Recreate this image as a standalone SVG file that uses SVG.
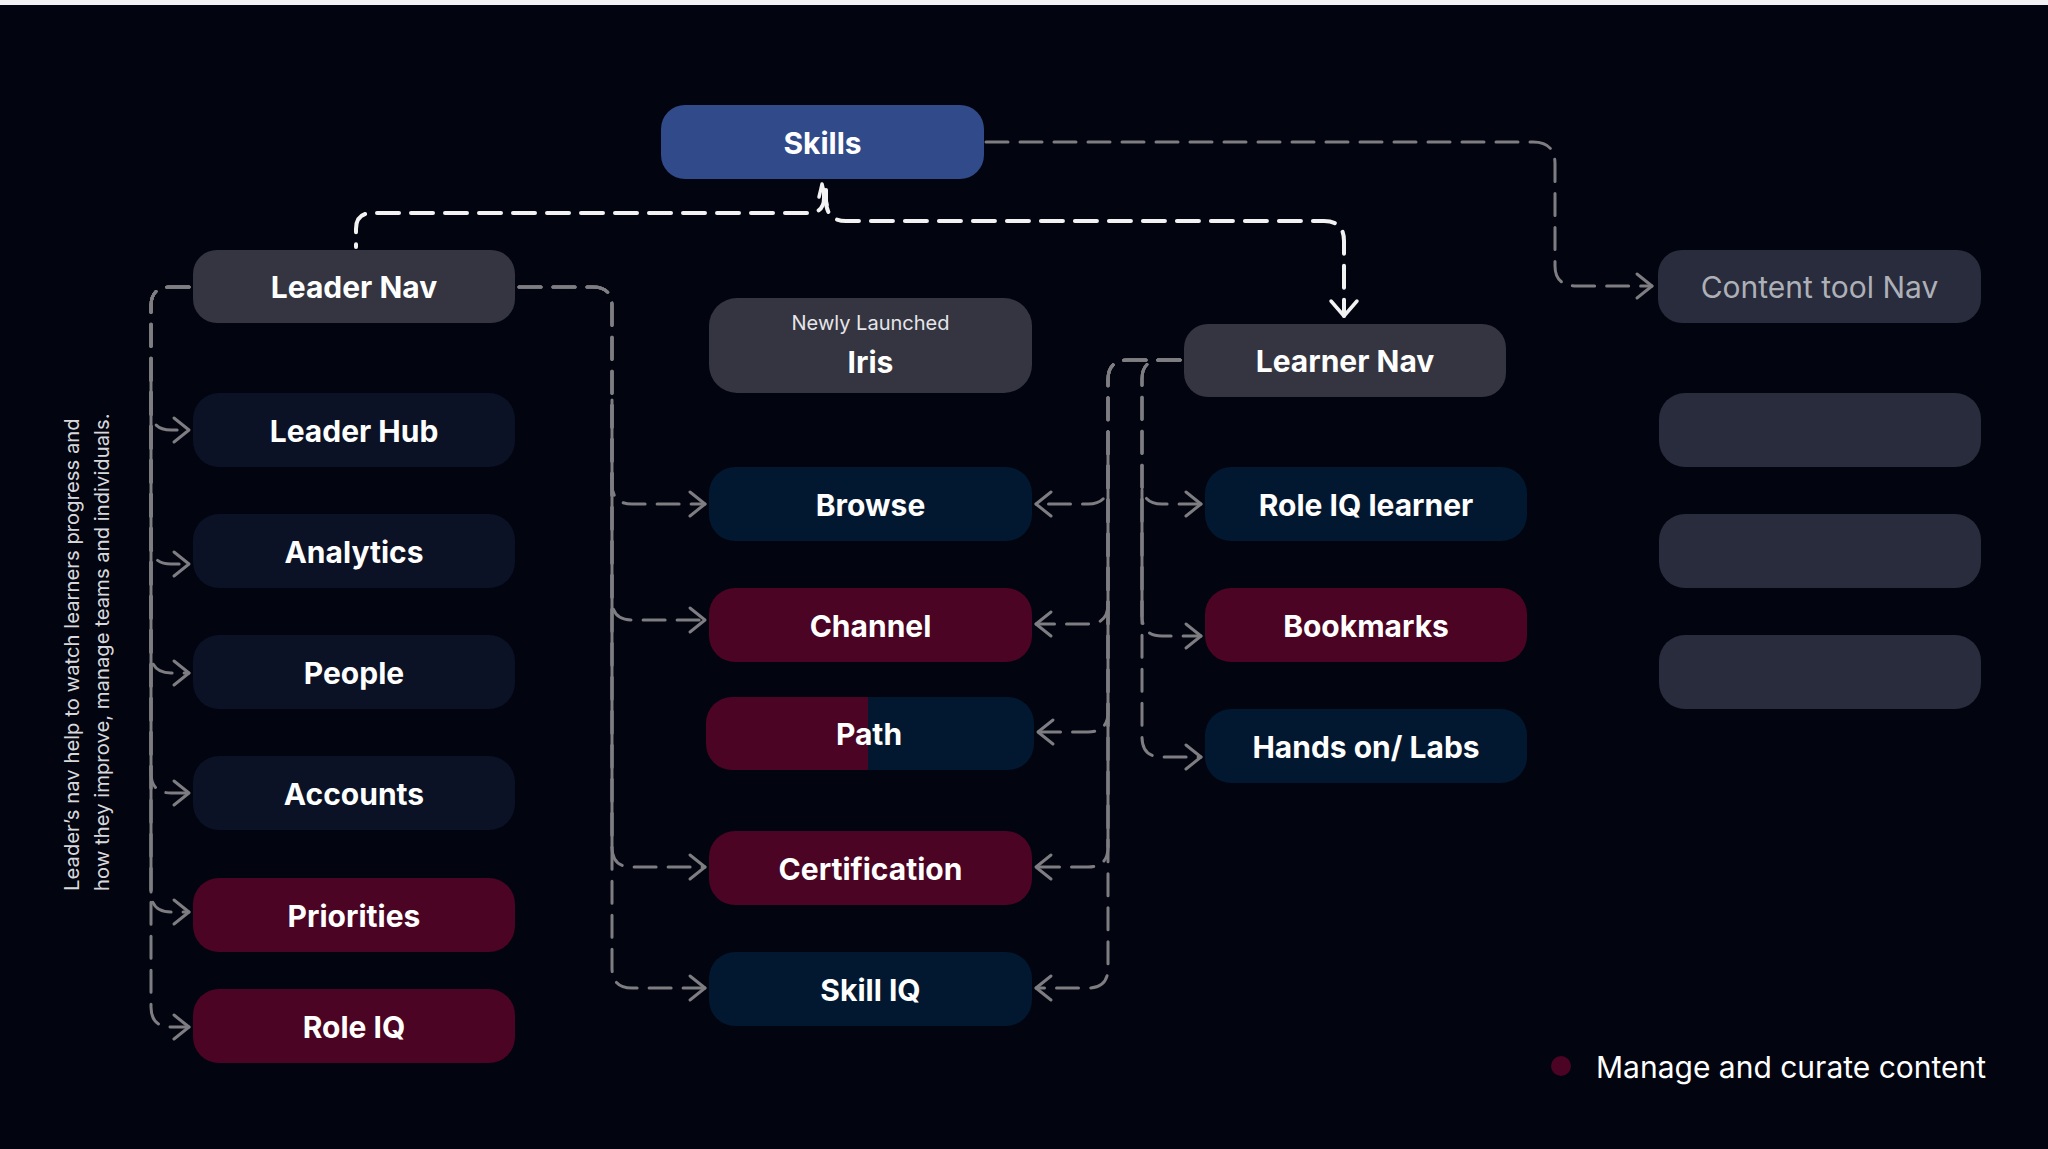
<svg xmlns="http://www.w3.org/2000/svg" width="2048" height="1149" viewBox="0 0 2048 1149">
<style>
.lbl{font-family:Inter,"Liberation Sans",sans-serif;font-weight:700;font-size:30px;fill:#ffffff;text-anchor:middle}
.reg{font-family:Inter,"Liberation Sans",sans-serif;font-weight:400}
.gray{fill:#343540}
.navy{fill:#0b1226}
.maroon{fill:#4b0423}
.blue{fill:#021830}
.slate{fill:#282c3c}
.skills{fill:#304a8a}
.cg{fill:none;stroke:#7d7d82;stroke-width:3;stroke-dasharray:22 12;stroke-linecap:round;stroke-linejoin:round}
.cs{fill:none;stroke:#7d7d82;stroke-width:3;stroke-linecap:round}
.cw{fill:none;stroke:#f2f2f2;stroke-width:4;stroke-dasharray:22 12;stroke-linecap:round;stroke-linejoin:round}
.ae{marker-end:url(#ag)}
</style>
<defs>
<marker id="ag" markerUnits="userSpaceOnUse" markerWidth="40" markerHeight="40" viewBox="-20 -20 40 40" refX="0" refY="0" orient="auto">
<path d="M-15,-12 L0,0 L-15,12" fill="none" stroke="#7d7d82" stroke-width="3" stroke-linecap="round" stroke-linejoin="round"/>
</marker>
<marker id="aw" markerUnits="userSpaceOnUse" markerWidth="40" markerHeight="40" viewBox="-20 -20 40 40" refX="0" refY="0" orient="auto">
<path d="M-15,-13 L0,0 L-15,13" fill="none" stroke="#f2f2f2" stroke-width="3.5" stroke-linecap="round" stroke-linejoin="round"/>
</marker>
<clipPath id="pathclip"><rect x="706" y="697" width="328" height="73" rx="26"/></clipPath>
</defs>
<rect x="0" y="0" width="2048" height="1149" fill="#02040f"/>
<rect x="0" y="0" width="2048" height="5" fill="#f2f2f2"/>

<g id="note">
<text class="reg" font-size="20.3" fill="#d8d8dc" transform="translate(79,891) rotate(-90)">Leader’s nav help to watch learners progress and</text>
<text class="reg" font-size="20.3" fill="#d8d8dc" transform="translate(109,891) rotate(-90)">how they improve, manage teams and individuals.</text>
</g>

<g id="connectors">
<!-- Skills to Leader Nav / Learner Nav -->
<path d="M819,197 Q821,189 822,184 L827,205" fill="none" stroke="#f2f2f2" stroke-width="3.5" stroke-linecap="round" stroke-linejoin="round"/>
<path class="cw" d="M824,190 V198 Q824,213 808,213 H372 Q356,213 356,229 V247"/>
<path class="cw" d="M826,190 V200 Q826,221 846,221 H1324 Q1344,221 1344,241 V316" marker-end="url(#aw)"/>
<!-- Skills to Content tool Nav -->
<path class="cg ae" d="M986,142 H1533 Q1555,142 1555,164 V266 Q1555,286 1577,286 H1652"/>
<!-- Leader Nav left trunk -->
<path class="cg ae" d="M189,287 H170 Q151,287 151,306 V410 Q151,430 171,430 H189"/>
<path class="cg ae" d="M189,287 H170 Q151,287 151,306 V544 Q151,564 171,564 H189"/>
<path class="cg ae" d="M189,287 H170 Q151,287 151,306 V653 Q151,673 171,673 H189"/>
<path class="cg ae" d="M189,287 H170 Q151,287 151,306 V773 Q151,793 171,793 H189"/>
<path class="cg ae" d="M189,287 H170 Q151,287 151,306 V892 Q151,912 171,912 H189"/>
<path class="cg ae" d="M189,287 H170 Q151,287 151,306 V1007 Q151,1027 171,1027 H189"/>
<path class="cs" d="M151,380 V892"/>
<!-- Leader Nav right trunk -->
<path class="cg ae" d="M519,287 H593 Q612,287 612,306 V484 Q612,504 632,504 H705"/>
<path class="cg ae" d="M519,287 H593 Q612,287 612,306 V600 Q612,620 632,620 H705"/>
<path class="cg ae" d="M519,287 H593 Q612,287 612,306 V847 Q612,867 632,867 H705"/>
<path class="cg ae" d="M519,287 H593 Q612,287 612,306 V968 Q612,988 632,988 H705"/>
<path class="cs" d="M612,400 V847"/>
<!-- Learner Nav outer trunk -->
<path class="cg ae" d="M1180,360 H1128 Q1108,360 1108,380 V484 Q1108,504 1088,504 H1036"/>
<path class="cg ae" d="M1180,360 H1128 Q1108,360 1108,380 V604 Q1108,624 1088,624 H1036"/>
<path class="cg ae" d="M1180,360 H1128 Q1108,360 1108,380 V712 Q1108,732 1088,732 H1038"/>
<path class="cg ae" d="M1180,360 H1128 Q1108,360 1108,380 V847 Q1108,867 1088,867 H1036"/>
<path class="cg ae" d="M1180,360 H1128 Q1108,360 1108,380 V968 Q1108,988 1088,988 H1036"/>
<path class="cs" d="M1108,440 V847"/>
<!-- Learner Nav inner trunk -->
<path class="cg ae" d="M1180,360 H1161 Q1142,360 1142,379 V484 Q1142,504 1162,504 H1201"/>
<path class="cg ae" d="M1180,360 H1161 Q1142,360 1142,379 V616 Q1142,636 1162,636 H1201"/>
<path class="cg ae" d="M1180,360 H1161 Q1142,360 1142,379 V737 Q1142,757 1162,757 H1201"/>
<path class="cs" d="M1142,490 V616"/>
</g>

<g id="skills"><rect class="skills" x="661" y="105" width="323" height="74" rx="24"/><text class="lbl" x="822.5" y="154">Skills</text></g>
<g id="leader-nav"><rect class="gray" x="193" y="250" width="322" height="73" rx="24"/><text class="lbl" x="354" y="298">Leader Nav</text></g>
<g id="iris"><rect class="gray" x="709" y="298" width="323" height="95" rx="28"/><text class="reg" x="870.5" y="330" font-size="20" fill="#e6e6ea" text-anchor="middle">Newly Launched</text><text class="lbl" x="870.5" y="373">Iris</text></g>
<g id="learner-nav"><rect class="gray" x="1184" y="324" width="322" height="73" rx="24"/><text class="lbl" x="1345" y="372">Learner Nav</text></g>
<g id="content-tool-nav"><rect class="slate" x="1658" y="250" width="323" height="73" rx="24"/><text class="reg" x="1819.5" y="298" font-size="30" fill="#aeb0b8" text-anchor="middle">Content tool Nav</text></g>
<g id="placeholder-1"><rect class="slate" x="1659" y="393" width="322" height="74" rx="26"/></g>
<g id="placeholder-2"><rect class="slate" x="1659" y="514" width="322" height="74" rx="26"/></g>
<g id="placeholder-3"><rect class="slate" x="1659" y="635" width="322" height="74" rx="26"/></g>

<g id="leader-hub"><rect class="navy" x="193" y="393" width="322" height="74" rx="26"/><text class="lbl" x="354" y="442">Leader Hub</text></g>
<g id="analytics"><rect class="navy" x="193" y="514" width="322" height="74" rx="26"/><text class="lbl" x="354" y="563">Analytics</text></g>
<g id="people"><rect class="navy" x="193" y="635" width="322" height="74" rx="26"/><text class="lbl" x="354" y="684">People</text></g>
<g id="accounts"><rect class="navy" x="193" y="756" width="322" height="74" rx="26"/><text class="lbl" x="354" y="805">Accounts</text></g>
<g id="priorities"><rect class="maroon" x="193" y="878" width="322" height="74" rx="26"/><text class="lbl" x="354" y="927">Priorities</text></g>
<g id="role-iq"><rect class="maroon" x="193" y="989" width="322" height="74" rx="26"/><text class="lbl" x="354" y="1038">Role IQ</text></g>

<g id="browse"><rect class="blue" x="709" y="467" width="323" height="74" rx="26"/><text class="lbl" x="870.5" y="516">Browse</text></g>
<g id="channel"><rect class="maroon" x="709" y="588" width="323" height="74" rx="26"/><text class="lbl" x="870.5" y="637">Channel</text></g>
<g id="path"><g clip-path="url(#pathclip)"><rect class="maroon" x="706" y="697" width="162" height="73"/><rect class="blue" x="868" y="697" width="166" height="73"/></g><text class="lbl" x="869" y="745">Path</text></g>
<g id="certification"><rect class="maroon" x="709" y="831" width="323" height="74" rx="26"/><text class="lbl" x="870.5" y="880">Certification</text></g>
<g id="skill-iq"><rect class="blue" x="709" y="952" width="323" height="74" rx="26"/><text class="lbl" x="870.5" y="1001">Skill IQ</text></g>

<g id="role-iq-learner"><rect class="blue" x="1205" y="467" width="322" height="74" rx="26"/><text class="lbl" x="1366" y="516">Role IQ learner</text></g>
<g id="bookmarks"><rect class="maroon" x="1205" y="588" width="322" height="74" rx="26"/><text class="lbl" x="1366" y="637">Bookmarks</text></g>
<g id="hands-on-labs"><rect class="blue" x="1205" y="709" width="322" height="74" rx="26"/><text class="lbl" x="1366" y="758">Hands on/ Labs</text></g>

<g id="legend"><circle cx="1561" cy="1066" r="10" fill="#4b0423"/><text class="reg" x="1596" y="1078" font-size="30" fill="#ffffff">Manage and curate content</text></g>
</svg>
